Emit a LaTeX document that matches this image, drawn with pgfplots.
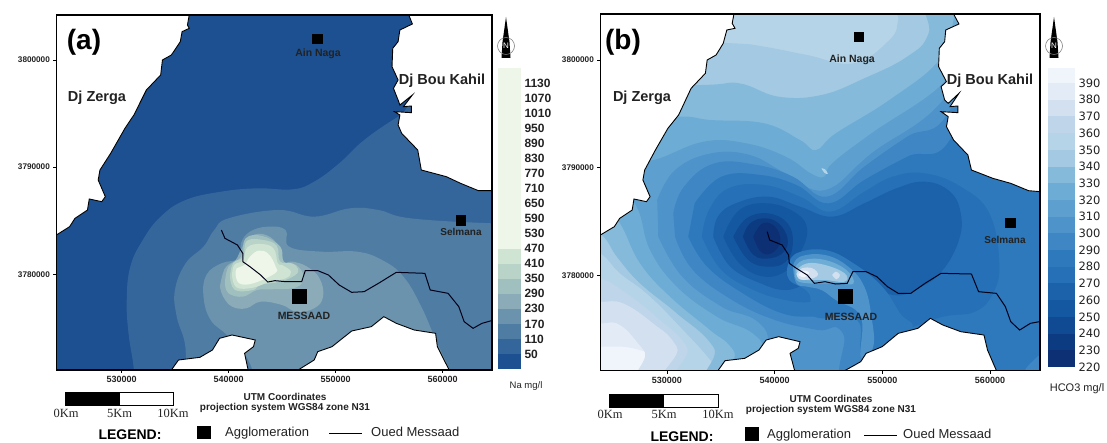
\documentclass[border=0pt]{standalone}
\usepackage{pgfplots}
\pgfplotsset{compat=1.18}
\usepackage{fontspec}
\setmainfont{Liberation Sans}
\newfontfamily\ser{Liberation Serif}
\newfontfamily\dv{DejaVu Sans}
\newcommand{\fs}[1]{\fontsize{#1}{#1}\selectfont}
\pgfkeys{/pgfplots/table/ma/.style={row sep=\\,x expr=530000+33.37*(\thisrowno{0}-341),y expr=3800000-31.1*(\thisrowno{1}-180)}}
\pgfkeys{/pgfplots/table/mb/.style={row sep=\\,x expr=530000+33.15*(\thisrowno{0}-327),y expr=3800000-30.96*(\thisrowno{1}-180)}}
\definecolor{a1}{HTML}{1D5090}\definecolor{a2}{HTML}{35669B}\definecolor{a3}{HTML}{4F7CA3}
\definecolor{a4}{HTML}{6B93AD}\definecolor{a5}{HTML}{8AABB7}\definecolor{a6}{HTML}{A0BFBF}
\definecolor{a7}{HTML}{B9D3C9}\definecolor{a8}{HTML}{D0E4D3}\definecolor{a9}{HTML}{EDF6E8}
\definecolor{b220}{HTML}{0D2F73}\definecolor{b230}{HTML}{0D3B82}\definecolor{b240}{HTML}{0F4A93}
\definecolor{b250}{HTML}{1558A2}\definecolor{b260}{HTML}{1B62AB}\definecolor{b270}{HTML}{2570B6}
\definecolor{b280}{HTML}{2E78BC}\definecolor{b290}{HTML}{3E86C4}\definecolor{b300}{HTML}{4F93CB}
\definecolor{b310}{HTML}{5DA0D0}\definecolor{b320}{HTML}{6DADD5}\definecolor{b330}{HTML}{86BADB}
\definecolor{b340}{HTML}{A3CAE2}\definecolor{b350}{HTML}{B6D4E8}\definecolor{b360}{HTML}{BED5EA}
\definecolor{b370}{HTML}{D3E0F0}\definecolor{b380}{HTML}{E3EBF6}\definecolor{b390}{HTML}{F0F5FB}
\definecolor{tk}{HTML}{222222}
\pgfplotsset{mapaxis/.style={scale only axis,axis on top,clip=true,
  axis line style={line width=1.6pt,black},
  xtick={530000,540000,550000,560000},ytick={3780000,3790000,3800000},
  scaled ticks=false,tick align=outside,tick pos=left,major tick length=3pt,
  tick style={black,line width=.5pt},
  xticklabel style={font=\fs{9}\bfseries,text=tk,/pgf/number format/fixed,/pgf/number format/1000 sep={},/pgf/number format/assume math mode=true},
  yticklabel style={font=\fs{8.2}\bfseries,text=tk,/pgf/number format/fixed,/pgf/number format/1000 sep={},/pgf/number format/assume math mode=true},
  },
  cs/.style={fill=#1,draw=none,mark=none,smooth,tension=.7,forget plot},
  wh/.style={fill=white,draw=black,mark=none,line width=.9pt,forget plot},
  rv/.style={draw=black!90!blue,mark=none,line width=1pt,forget plot},
  sq/.style={only marks,mark=square*,mark size=#1,mark options={fill=black,draw=black},forget plot},
  cbar/.style={scale only axis,axis line style={draw=none},tick style={draw=none},xtick=\empty,xmin=0,xmax=1,ytick pos=right,yticklabel pos=right,
   yticklabel style={/pgf/number format/fixed,/pgf/number format/1000 sep={},/pgf/number format/assume math mode=true}},
  br/.style={fill=#1,draw=none,mark=none,forget plot}
}
\begin{document}
\begin{tikzpicture}
\path[use as bounding box] (0,0) rectangle (1107pt,443pt);
%% ===== panel a
\begin{axis}[mapaxis,at={(56.4pt,73pt)},anchor=south west,width=435.6pt,height=355pt,
 xmin=523893,xmax=564605,ymin=3771077,ymax=3804199,
 axis background/.style={fill=a1}]
\addplot[cs=a2] table[ma]{375 1200\\375 1110\\360 1000\\355 900\\365 800\\400 720\\450 650\\520 600\\620 575\\720 565\\820 568\\880 545\\950 490\\1020 420\\1115 350\\1200 300\\1500 300\\1500 1200\\};
\addplot[cs=a3] table[ma]{510 1200\\520 1050\\495 950\\490 870\\520 790\\570 740\\600 690\\640 655\\780 630\\880 650\\980 625\\1060 630\\1150 655\\1378 670\\1500 670\\1500 1200\\};
\addplot[cs=a4] table[ma]{720 1200\\700 1090\\640 1010\\590 960\\570 890\\578 825\\620 790\\672 775\\675 730\\700 695\\750 680\\800 690\\810 740\\900 755\\1000 755\\1070 780\\1130 830\\1180 920\\1225 1030\\1300 1200\\};
\addplot[cs=a5] table[ma]{616 860\\625 890\\650 920\\690 925\\730 905\\790 915\\830 935\\880 925\\905 890\\895 835\\860 800\\820 785\\790 785\\775 730\\735 702\\695 715\\670 760\\660 780\\630 805\\616 860\\};
\addplot[cs=a6] table[ma]{630 850\\640 880\\680 890\\720 870\\760 868\\830 862\\850 830\\830 795\\795 785\\785 740\\735 708\\688 715\\675 770\\640 800\\630 850\\};
\addplot[cs=a7] table[ma]{644 830\\658 870\\709 870\\728 855\\784 845\\826 826\\835 807\\817 790\\784 784\\775 737\\737 720\\691 723\\681 770\\653 789\\644 830\\};
\addplot[cs=a8] table[ma]{650 825\\662 862\\709 863\\755 845\\800 835\\815 815\\790 795\\778 790\\766 745\\730 732\\693 742\\681 780\\656 795\\650 825\\};
\addplot[cs=a9] table[ma]{660 822\\670 850\\709 850\\770 820\\772 800\\752 762\\725 752\\700 770\\685 795\\663 805\\660 822\\};
% white massifs
\addplot[wh] table[ma]{100 0\\530 0\\530 45\\525 75\\530 85\\510 95\\505 125\\480 165\\455 180\\450 225\\410 270\\375 345\\350 385\\310 460\\280 510\\275 540\\295 590\\285 605\\250 597\\245 630\\210 655\\195 680\\158 705\\100 740\\100 0\\};
\addplot[wh] table[ma]{1140 0\\1145 45\\1155 72\\1120 90\\1115 125\\1100 145\\1098 200\\1115 240\\1102 265\\1115 300\\1120 315\\1155 285\\1130 320\\1152 318\\1152 338\\1105 335\\1120 345\\1115 375\\1125 400\\1170 450\\1180 510\\1250 530\\1290 550\\1340 572\\1378 572\\1450 572\\1450 0\\1140 0\\};
\addplot[wh] table[ma]{470 1150\\480 1110\\500 1080\\560 1072\\595 1050\\615 1015\\650 1005\\715 1020\\710 1040\\685 1060\\695 1110\\700 1150\\470 1150\\};
\addplot[wh] table[ma]{820 1150\\835 1110\\880 1080\\890 1055\\930 1040\\985 993\\1040 980\\1075 950\\1110 970\\1160 990\\1220 1000\\1225 1040\\1258 1110\\1270 1150\\820 1150\\};
\addplot[rv] table[ma]{620 690\\630 715\\665 735\\680 760\\680 785\\700 800\\730 825\\750 846\\770 842\\800 845\\845 845\\855 812\\890 812\\920 825\\950 855\\985 877\\1020 875\\1060 850\\1110 817\\1190 820\\1205 870\\1255 880\\1285 920\\1300 965\\1325 985\\1350 970\\1390 958\\};
\addplot[sq=4.7pt] table[ma]{888 116\\1290 661\\};
\addplot[sq=7pt] table[ma]{838 888\\};
\end{axis}
%% colour bar a
\begin{axis}[cbar,at={(497.5pt,74pt)},anchor=south west,width=23.5pt,height=300.7pt,ymin=-10,ymax=1190,
 ytick={50,110,170,230,290,350,410,470,530,590,650,710,770,830,890,950,1010,1070,1130},
 yticklabel style={font=\fs{12}\bfseries,text=tk},major tick length=1pt]
\addplot[br=a1] coordinates {(0,-10)(1,-10)(1,50)(0,50)};
\addplot[br=a2] coordinates {(0,50)(1,50)(1,110)(0,110)};
\addplot[br=a3] coordinates {(0,110)(1,110)(1,170)(0,170)};
\addplot[br=a4] coordinates {(0,170)(1,170)(1,230)(0,230)};
\addplot[br=a5] coordinates {(0,230)(1,230)(1,290)(0,290)};
\addplot[br=a6] coordinates {(0,290)(1,290)(1,350)(0,350)};
\addplot[br=a7] coordinates {(0,350)(1,350)(1,410)(0,410)};
\addplot[br=a8] coordinates {(0,410)(1,410)(1,470)(0,470)};
\addplot[br=a9] coordinates {(0,470)(1,470)(1,1190)(0,1190)};
\end{axis}
%% ===== panel b
\begin{axis}[mapaxis,at={(600.4pt,72.3pt)},anchor=south west,width=439.6pt,height=356.7pt,
 xmin=523834,xmax=564642,ymin=3771145,ymax=3804272,
 axis background/.style={fill=b390}]
\addplot[cs=b380] table[mb]{60 1040\\141 1040\\233 1045\\299 1085\\325 1200\\1500 1200\\1500 -50\\60 -50\\};
\addplot[cs=b370] table[mb]{60 970\\141 970\\196 975\\262 1050\\370 1200\\1500 1200\\1500 -50\\60 -50\\};
\addplot[cs=b360] table[mb]{60 900\\141 905\\205 910\\289 970\\355 1040\\420 1200\\1500 1200\\1500 -50\\60 -50\\};
\addplot[cs=b350] table[mb]{60 830\\141 835\\215 880\\308 960\\383 1040\\450 1200\\1500 1200\\1500 -50\\60 -50\\};
\addplot[cs=b340] table[mb]{60 720\\141 760\\196 820\\270 880\\355 970\\462 1100\\500 1200\\1500 1200\\1500 -50\\985 -50\\975 60\\950 120\\850 190\\720 165\\600 140\\515 130\\300 125\\60 125\\};
\addplot[cs=b330] table[mb]{60 640\\145 705\\187 770\\252 850\\355 940\\457 1040\\530 1200\\1500 1200\\1500 -50\\1080 -50\\1060 100\\1000 170\\880 235\\760 285\\640 290\\530 250\\425 255\\60 260\\};
\addplot[cs=b320] table[mb]{140 600\\196 670\\252 790\\336 890\\448 990\\513 1050\\600 1200\\1500 1200\\1500 -50\\1140 -50\\1130 60\\1090 180\\950 300\\800 400\\745 450\\700 420\\600 370\\450 360\\355 350\\140 370\\};
\addplot[cs=b310] table[mb]{200 560\\247 630\\280 750\\355 860\\467 950\\588 1020\\680 1200\\1500 1200\\1500 -50\\1200 -50\\1140 130\\1100 250\\900 400\\790 490\\768 530\\730 520\\660 470\\550 430\\430 425\\290 480\\200 480\\};
\addplot[cs=b300] table[mb]{303 710\\370 830\\480 920\\600 985\\700 1200\\1500 1200\\1500 -50\\1250 -50\\1115 280\\900 460\\770 570\\660 520\\560 465\\450 460\\350 510\\300 600\\};
\addplot[cs=b290] table[mb]{350 710\\400 810\\510 900\\630 960\\750 990\\820 1000\\880 1200\\1500 1200\\1500 -50\\1250 -50\\1120 330\\1000 410\\880 500\\775 590\\680 530\\580 495\\460 490\\375 560\\345 640\\};
\addplot[cs=b280] table[mb]{387 710\\440 800\\540 880\\650 940\\740 950\\850 950\\880 1000\\960 1200\\1500 1200\\1500 -50\\1250 -50\\1130 400\\1000 470\\880 540\\780 610\\690 555\\590 525\\480 530\\405 610\\};
\addplot[cs=b270] table[mb]{425 710\\480 810\\570 870\\660 900\\730 905\\800 880\\900 950\\970 990\\1100 950\\1190 935\\1240 880\\1258 790\\1230 640\\1150 560\\1050 520\\960 530\\880 575\\785 635\\700 590\\600 555\\500 565\\445 630\\425 710\\};
\addplot[cs=b260] table[mb]{457 710\\505 800\\590 850\\660 870\\730 850\\850 830\\960 885\\1040 860\\1100 810\\1145 720\\1150 640\\1120 575\\1050 545\\970 565\\880 610\\790 650\\700 620\\610 590\\520 610\\470 650\\457 710\\};
\addplot[cs=b250] table[mb]{485 710\\530 790\\600 830\\665 810\\700 760\\720 690\\690 640\\610 610\\530 630\\485 710\\};
\addplot[cs=b240] table[mb]{513 710\\555 780\\610 800\\660 785\\680 730\\665 670\\610 640\\550 655\\513 710\\};
\addplot[cs=b230] table[mb]{540 710\\570 765\\615 775\\655 755\\665 715\\640 670\\600 655\\560 670\\540 710\\};
\addplot[cs=b220] table[mb]{569 710\\590 755\\620 760\\645 725\\630 680\\595 670\\569 710\\};
% patch in the south-east corner
\addplot[cs=b290] table[mb]{1320 1130\\1345 1090\\1400 1050\\1400 1130\\1320 1130\\};
% light lobes near the wadi
\addplot[cs=b280] table[mb]{665 800\\690 760\\770 750\\850 790\\930 860\\980 940\\1010 990\\880 1070\\860 960\\740 950\\725 880\\670 840\\665 800\\};
\addplot[cs=b300] table[mb]{680 800\\700 770\\770 765\\835 800\\880 860\\900 950\\905 1040\\870 1070\\870 950\\800 900\\760 870\\720 860\\690 850\\680 800\\};
\addplot[cs=b320] table[mb]{685 805\\710 780\\770 780\\830 810\\850 850\\810 850\\770 850\\725 850\\690 840\\685 805\\};
\addplot[cs=b340] table[mb]{690 810\\720 790\\770 795\\825 820\\825 845\\770 840\\720 840\\695 835\\690 810\\};
\addplot[cs=b370] table[mb]{690 822\\705 805\\735 805\\750 825\\725 838\\700 838\\690 822\\};
\addplot[cs=b370] table[mb]{790 825\\800 815\\812 825\\802 838\\790 825\\};
\addplot[cs=b390] table[mb]{695 825\\708 812\\725 818\\712 832\\695 825\\};
\addplot[cs=b350] table[mb]{760 505\\770 508\\778 522\\768 518\\760 505\\};
% white massifs
\addplot[wh] table[mb]{100 0\\515 0\\515 42\\510 70\\518 85\\495 90\\485 130\\465 165\\440 180\\435 220\\395 265\\360 345\\330 385\\295 450\\265 510\\260 540\\280 590\\270 605\\235 597\\230 630\\195 655\\180 680\\141 705\\100 740\\100 0\\};
\addplot[wh] table[mb]{1125 0\\1130 42\\1145 72\\1108 90\\1105 125\\1090 145\\1088 200\\1110 245\\1095 260\\1105 300\\1115 310\\1145 280\\1120 320\\1142 318\\1142 338\\1095 335\\1115 350\\1110 380\\1130 420\\1170 465\\1180 510\\1240 535\\1290 550\\1340 572\\1372 575\\1450 575\\1450 0\\1125 0\\};
\addplot[wh] table[mb]{460 1150\\470 1112\\490 1082\\545 1075\\585 1050\\605 1020\\640 1010\\700 1025\\695 1045\\672 1060\\685 1112\\690 1150\\460 1150\\};
\addplot[wh] table[mb]{810 1150\\825 1112\\870 1085\\885 1060\\930 1040\\975 1000\\1030 985\\1065 955\\1100 975\\1150 995\\1215 1005\\1225 1050\\1250 1112\\1265 1150\\810 1150\\};
\addplot[rv] table[mb]{608 695\\615 720\\650 735\\668 765\\670 790\\690 805\\720 825\\740 850\\770 845\\800 852\\832 850\\848 815\\885 815\\915 830\\945 860\\975 880\\1010 880\\1050 850\\1095 820\\1180 822\\1200 875\\1250 880\\1275 920\\1290 965\\1315 990\\1345 970\\1385 962\\};
\addplot[sq=4.7pt] table[mb]{864 110\\1289 668\\};
\addplot[sq=7pt] table[mb]{826 890\\};
\end{axis}
%% colour bar b
\begin{axis}[cbar,at={(1047.5pt,76pt)},anchor=south west,width=27.5pt,height=299pt,ymin=220,ymax=399,
 ytick={220,230,...,390},
 yticklabel style={font=\dv\fs{11.5},text=tk},major tick length=1pt]
\addplot[br=b220] coordinates {(0,220)(1,220)(1,230)(0,230)};
\addplot[br=b230] coordinates {(0,230)(1,230)(1,240)(0,240)};
\addplot[br=b240] coordinates {(0,240)(1,240)(1,250)(0,250)};
\addplot[br=b250] coordinates {(0,250)(1,250)(1,260)(0,260)};
\addplot[br=b260] coordinates {(0,260)(1,260)(1,270)(0,270)};
\addplot[br=b270] coordinates {(0,270)(1,270)(1,280)(0,280)};
\addplot[br=b280] coordinates {(0,280)(1,280)(1,290)(0,290)};
\addplot[br=b290] coordinates {(0,290)(1,290)(1,300)(0,300)};
\addplot[br=b300] coordinates {(0,300)(1,300)(1,310)(0,310)};
\addplot[br=b310] coordinates {(0,310)(1,310)(1,320)(0,320)};
\addplot[br=b320] coordinates {(0,320)(1,320)(1,330)(0,330)};
\addplot[br=b330] coordinates {(0,330)(1,330)(1,340)(0,340)};
\addplot[br=b340] coordinates {(0,340)(1,340)(1,350)(0,350)};
\addplot[br=b350] coordinates {(0,350)(1,350)(1,360)(0,360)};
\addplot[br=b360] coordinates {(0,360)(1,360)(1,370)(0,370)};
\addplot[br=b370] coordinates {(0,370)(1,370)(1,380)(0,380)};
\addplot[br=b380] coordinates {(0,380)(1,380)(1,390)(0,390)};
\addplot[br=b390] coordinates {(0,390)(1,390)(1,399)(0,399)};
\end{axis}
%% ===== annotation, in pixel coordinates of the picture
\begin{scope}[shift={(0pt,443pt)},x=1pt,y=-1pt]
\def\northarrow#1{%
 \fill[black] (#1,17) -- (#1+3.5,42) -- (#1+4.5,58) -- (#1-4.5,58) -- (#1-3.5,42) -- cycle;
 \draw[gray,line width=.6pt] (#1,46) circle (8.5);
 \node[white,font=\fs{8}] at (#1,46) {N};}
\northarrow{506}\northarrow{1054}
% a
\node[font=\fs{28}\bfseries] at (84,42) {(a)};
\node[font=\fs{14.5}\bfseries,text=tk] at (97,98) {Dj Zerga};
\node[font=\fs{14.5}\bfseries,text=tk] at (442,81) {Dj Bou Kahil};
\node[font=\fs{10.5}\bfseries,text=tk] at (318,53.5) {Ain Naga};
\node[font=\fs{10}\bfseries,text=tk] at (461,232) {Selmana};
\node[font=\fs{10.5}\bfseries,text=tk] at (304,316) {MESSAAD};
\node[font=\fs{9.5},text=tk] at (526,386) {Na mg/l};
\fill[black] (65.4,392.7) rectangle (119.6,405.7);
\draw[black,line width=.8pt] (65.4,392.7) rectangle (173,405.7);
\node[font=\ser\fs{12.5},text=tk] at (66,413) {0Km};
\node[font=\ser\fs{12.5},text=tk] at (119.6,413) {5Km};
\node[font=\ser\fs{12.5},text=tk] at (173,413) {10Km};
\node[font=\fs{10}\bfseries,text=tk] at (285,397) {UTM Coordinates};
\node[font=\fs{10}\bfseries,text=tk] at (285,408) {projection system WGS84 zone N31};
\node[font=\fs{14}\bfseries] at (130,435) {LEGEND:};
\fill[black] (197,426) rectangle (211,439);
\node[font=\fs{13},anchor=west,inner sep=0pt,text=tk] at (225,433) {Agglomeration};
\draw[black,line width=.9pt] (329,433) -- (362,433);
\node[font=\fs{13},anchor=west,inner sep=0pt,text=tk] at (371,432) {Oued Messaad};
% b
\node[font=\fs{28}\bfseries] at (623,42) {(b)};
\node[font=\fs{14.5}\bfseries,text=tk] at (642,98) {Dj Zerga};
\node[font=\fs{14.5}\bfseries,text=tk] at (990,81) {Dj Bou Kahil};
\node[font=\fs{10.5}\bfseries,text=tk] at (852,60) {Ain Naga};
\node[font=\fs{10}\bfseries,text=tk] at (1005,240) {Selmana};
\node[font=\fs{10.5}\bfseries,text=tk] at (851,317) {MESSAAD};
\node[font=\fs{11},text=tk] at (1077,389) {HCO3 mg/l};
\fill[black] (609.6,394) rectangle (664,407);
\draw[black,line width=.8pt] (609.6,394) rectangle (717.9,407);
\node[font=\ser\fs{12.5},text=tk] at (610,414) {0Km};
\node[font=\ser\fs{12.5},text=tk] at (664,414) {5Km};
\node[font=\ser\fs{12.5},text=tk] at (718,414) {10Km};
\node[font=\fs{10}\bfseries,text=tk] at (831,399) {UTM Coordinates};
\node[font=\fs{10}\bfseries,text=tk] at (831,410) {projection system WGS84 zone N31};
\node[font=\fs{14}\bfseries] at (682,437) {LEGEND:};
\fill[black] (745,427) rectangle (759,441);
\node[font=\fs{13},anchor=west,inner sep=0pt,text=tk] at (767,435) {Agglomeration};
\draw[black,line width=.9pt] (864,435) -- (896.5,435);
\node[font=\fs{13},anchor=west,inner sep=0pt,text=tk] at (903,434) {Oued Messaad};
\end{scope}
\end{tikzpicture}
\end{document}
